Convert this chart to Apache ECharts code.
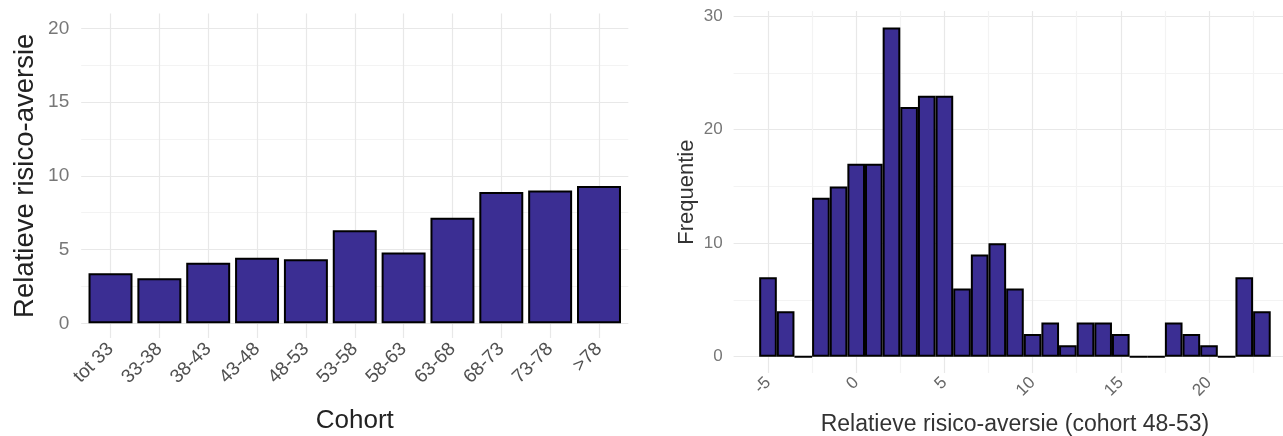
<!DOCTYPE html>
<html>
<head>
<meta charset="utf-8">
<script src="https://cdn.jsdelivr.net/npm/echarts@6/dist/echarts.min.js"></script>
<style>
html,body{margin:0;padding:0;background:#fff;}
#c{width:1283px;height:436px;}
</style>
</head>
<body>
<div id="c"></div>
<script>
// Left panel: mean relative risk aversion per cohort
const cohorts = ['tot 33','33-38','38-43','43-48','48-53','53-58','58-63','63-68','68-73','73-78','>78'];
const aversion = [3.4, 3.05, 4.1, 4.45, 4.35, 6.3, 4.8, 7.15, 8.9, 9.0, 9.3];
const leftYTicks = [0, 5, 10, 15, 20];
const leftYGrid = [0, 2.5, 5, 7.5, 10, 12.5, 15, 17.5, 20];

// Right panel: histogram (bin width 1) of relative risk aversion, cohort 48-53
const binCenters = [-5,-4,-3,-2,-1,0,1,2,3,4,5,6,7,8,9,10,11,12,13,14,15,16,17,18,19,20,21,22,23];
const frequency  = [7,4,0,14,15,17,17,29,22,23,23,6,9,10,6,2,3,1,3,3,2,0,0,3,2,1,0,7,4];
const rightXTicks = [-5, 0, 5, 10, 15, 20];
const rightXGrid = [-5,-2.5,0,2.5,5,7.5,10,12.5,15,17.5,20,22.5];
const rightYTicks = [0, 10, 20, 30];
const rightYGrid = [0, 5, 10, 15, 20, 25, 30];

const FONT = 'Liberation Sans, Arial, Helvetica, sans-serif';
const FILL = '#3b2e93';
const gridColors = ['#e8e8e8', '#f3f3f3'];

const chart = echarts.init(document.getElementById('c'), null, {renderer: 'canvas'});

const cohortIdx = cohorts.map((_, i) => i);

chart.setOption({
  backgroundColor: '#ffffff',
  animation: false,
  grid: [
    {left: 81.2, top: 13.55, width: 547.1, height: 324.5, containLabel: false, outerBoundsMode: 'none'},
    {left: 733.6, top: 11.1, width: 562.7, height: 362, containLabel: false, outerBoundsMode: 'none'}
  ],
  xAxis: [
    {
      gridIndex: 0, type: 'value', min: -0.6, max: 10.6,
      axisLine: {show: false},
      axisTick: {show: false, customValues: cohortIdx},
      splitLine: {show: true, lineStyle: {color: '#e8e8e8', width: 1.2}},
      axisLabel: {
        customValues: cohortIdx, rotate: 45, margin: 8,
        fontFamily: FONT, fontSize: 19, color: '#505050',
        formatter: v => cohorts[Math.round(v)]
      },
      name: 'Cohort', nameLocation: 'middle', nameGap: 70,
      nameTextStyle: {fontFamily: FONT, fontSize: 26, color: '#222'}
    },
    {
      gridIndex: 1, type: 'value', min: -6.95, max: 24.95,
      axisLine: {show: false},
      axisTick: {show: false, customValues: rightXGrid},
      splitLine: {show: true, lineStyle: {color: gridColors, width: 1.2}},
      axisLabel: {
        customValues: rightXTicks, rotate: 45, margin: 7,
        fontFamily: FONT, fontSize: 17, color: '#666'
      },
      name: 'Relatieve risico-aversie (cohort 48-53)', nameLocation: 'middle', nameGap: 40,
      nameTextStyle: {fontFamily: FONT, fontSize: 23, color: '#333'}
    }
  ],
  yAxis: [
    {
      gridIndex: 0, type: 'value', min: -1, max: 21,
      axisLine: {show: false},
      axisTick: {show: false, customValues: leftYGrid},
      splitLine: {show: true, lineStyle: {color: gridColors, width: 1.2}},
      axisLabel: {customValues: leftYTicks, margin: 12, fontFamily: FONT, fontSize: 19, color: '#777'},
      name: 'Relatieve risico-aversie', nameLocation: 'middle', nameGap: 42,
      nameTextStyle: {fontFamily: FONT, fontSize: 27.5, color: '#222'}
    },
    {
      gridIndex: 1, type: 'value', min: -1.45, max: 30.45,
      axisLine: {show: false},
      axisTick: {show: false, customValues: rightYGrid},
      splitLine: {show: true, lineStyle: {color: gridColors, width: 1.2}},
      axisLabel: {customValues: rightYTicks, margin: 11, fontFamily: FONT, fontSize: 17, color: '#777'},
      name: 'Frequentie', nameLocation: 'middle', nameGap: 36,
      nameTextStyle: {fontFamily: FONT, fontSize: 22, color: '#333'}
    }
  ],
  series: [
    {
      type: 'bar', xAxisIndex: 0, yAxisIndex: 0,
      data: aversion.map((v, i) => [cohortIdx[i], v]),
      barWidth: '90%',
      itemStyle: {color: FILL, borderColor: '#000', borderWidth: 2}
    },
    {
      type: 'bar', xAxisIndex: 1, yAxisIndex: 1,
      data: frequency.map((v, i) => [binCenters[i], v]),
      barWidth: '100%',
      itemStyle: {color: FILL, borderColor: '#000', borderWidth: 2}
    }
  ]
});
</script>
</body>
</html>
